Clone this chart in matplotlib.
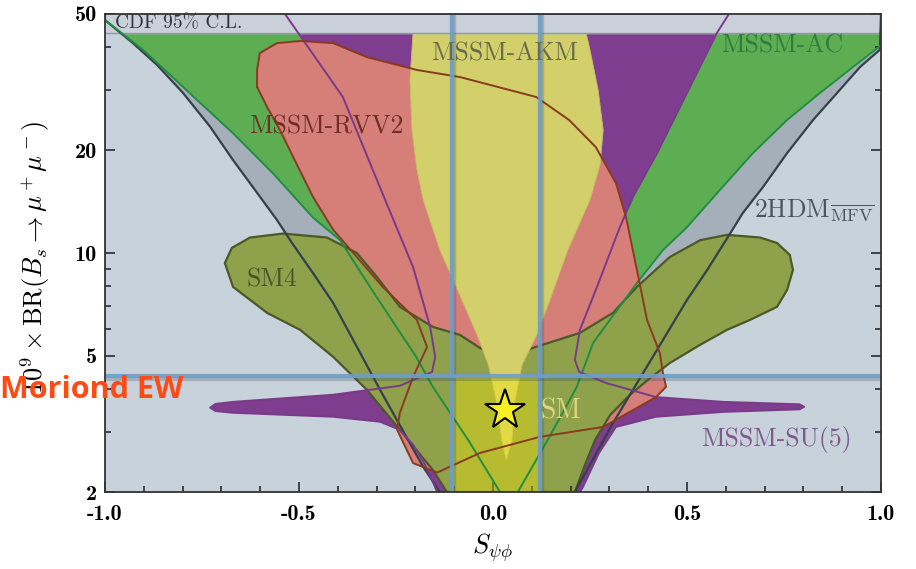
import numpy as np
import matplotlib
matplotlib.use('Agg')
import matplotlib.pyplot as plt
import matplotlib.patheffects as pe

plt.rcParams['mathtext.fontset'] = 'cm'
plt.rcParams['axes.unicode_minus'] = False

# ---- data ----
y_ticks = [2, 5, 10, 20, 50]
y_tick_labels = ['2', '5', '10', '20', '50']
y_minor = [3, 4, 6, 7, 8, 9, 30, 40]
x_ticks = [-1.0, -0.5, 0.0, 0.5, 1.0]
x_tick_labels = ['-1.0', '-0.5', '0.0', '0.5', '1.0']
x_minor = [-0.9, -0.8, -0.7, -0.6, -0.4, -0.3, -0.2, -0.1,
           0.1, 0.2, 0.3, 0.4, 0.6, 0.7, 0.8, 0.9]

cdf_limit = 44.0
exp_s_low, exp_s_high = -0.106, 0.121
exp_br = 4.37
sm_s, sm_br = 0.031, 3.48

# 2HDM_MFV (dark lines)
hdm_left_x = [-1.0, -1.0, -0.928, -0.866, -0.799, -0.729, -0.670, -0.608, -0.557, -0.518,
              -0.464, -0.412, -0.291, -0.258, -0.180, -0.137]
hdm_left_y = [50, 48.0, 41.1, 35.5, 29.4, 23.4, 18.7, 15.0, 12.5, 10.7,
              8.74, 7.15, 3.98, 3.41, 2.37, 2.0]
hdm_right_x = [1.0, 0.997, 0.946, 0.887, 0.825, 0.758, 0.696, 0.644, 0.611, 0.552,
               0.500, 0.387, 0.309, 0.247, 0.211]
hdm_right_y = [50, 39.3, 35.0, 29.4, 24.5, 19.6, 15.6, 13.1, 11.4, 8.92,
               7.29, 4.46, 3.18, 2.37, 2.0]

# MSSM-AC (green lines)
ac_left_x = [-1.0, -1.0, -0.902, -0.799, -0.670, -0.567, -0.464, -0.394, -0.312, -0.198,
             -0.155, -0.064, 0.018]
ac_left_y = [50, 48.0, 39.3, 30.6, 22.4, 17.1, 12.7, 10.9, 7.80, 4.97,
             4.06, 2.84, 2.0]
ac_right_x = [1.0, 1.0, 0.928, 0.843, 0.758, 0.670, 0.585, 0.500, 0.438, 0.371,
              0.258, 0.216, 0.141, 0.064]
ac_right_y = [50, 40.5, 35.0, 29.4, 24.5, 19.6, 15.3, 11.9, 10.2, 8.17,
              5.46, 4.06, 2.84, 2.0]

# MSSM-SU(5) (purple)
su5_left_x = [-0.536, -0.387, -0.278, -0.206, -0.162, -0.149, -0.157, -0.240, -0.412, -0.670,
              -0.715, -0.729, -0.715, -0.670, -0.412, -0.291, -0.240, -0.206, -0.175, -0.155,
              -0.144]
su5_left_y = [50, 28.6, 14.3, 9.10, 6.08, 4.97, 4.49, 4.09, 3.85, 3.67,
              3.62, 3.53, 3.45, 3.41, 3.32, 3.21, 3.04, 2.75, 2.40, 2.14,
              2.0]
su5_right_x = [0.608, 0.577, 0.500, 0.423, 0.361, 0.327, 0.265, 0.224, 0.211, 0.222,
               0.291, 0.420, 0.593, 0.790, 0.802, 0.790, 0.593, 0.420, 0.317, 0.273,
               0.232, 0.224]
su5_right_y = [50, 44.0, 29.4, 19.6, 14.6, 11.9, 7.80, 5.96, 4.87, 4.49,
               4.17, 3.79, 3.67, 3.61, 3.55, 3.49, 3.43, 3.32, 3.10, 2.60,
               2.07, 2.0]

# MSSM-RVV2 (salmon)
rvv2_x = [-0.608, -0.582, -0.549, -0.515, -0.464, -0.412, -0.284, -0.196, -0.170, -0.206,
          -0.240, -0.247, -0.206, -0.144, -0.034, 0.121, 0.284, 0.376, 0.420, 0.446,
          0.438, 0.430, 0.397, 0.371, 0.343, 0.317, 0.265, 0.196, 0.111, -0.085,
          -0.196, -0.325, -0.412, -0.497, -0.557, -0.601, -0.608]
rvv2_y = [30.6, 26.7, 22.9, 19.1, 14.6, 11.7, 7.96, 6.37, 5.31, 4.34,
          3.41, 3.04, 2.43, 2.28, 2.60, 2.90, 3.10, 3.55, 3.79, 4.06,
          4.46, 5.10, 6.37, 8.92, 12.7, 16.0, 20.4, 24.5, 28.6, 32.7,
          34.3, 37.4, 41.1, 41.7, 41.1, 38.4, 34.3]

# MSSM-AKM (yellow)
akm_x = [-0.206, -0.214, -0.209, -0.196, -0.180, -0.137, -0.080, -0.041, -0.012, 0.008,
         0.023, 0.034, 0.049, 0.057, 0.075, 0.113, 0.147, 0.193, 0.250, 0.276,
         0.284, 0.271, 0.250, 0.240]
akm_y = [44.0, 32.1, 22.9, 17.5, 14.3, 10.2, 7.29, 5.76, 4.71, 3.72,
         2.84, 2.48, 2.84, 3.72, 4.71, 5.76, 7.29, 10.2, 14.3, 18.1,
         22.9, 30.0, 39.3, 44.0]

# SM4 (olive)
sm4_x = [-0.691, -0.673, -0.626, -0.541, -0.428, -0.351, -0.299, -0.240, -0.155, -0.085,
         -0.034, 0.031, 0.103, 0.224, 0.309, 0.371, 0.456, 0.534, 0.603, 0.688,
         0.732, 0.765, 0.773, 0.758, 0.732, 0.662, 0.603, 0.534, 0.456, 0.405,
         0.353, 0.302, 0.263, 0.237, 0.211, -0.119, -0.155, -0.240, -0.325, -0.412,
         -0.497, -0.582, -0.670]
sm4_y = [9.35, 10.35, 11.1, 11.4, 11.1, 10.0, 8.51, 6.96, 6.08, 5.76,
         5.28, 4.93, 5.28, 5.84, 6.68, 7.96, 9.74, 10.9, 11.3, 11.1,
         10.7, 9.87, 8.92, 7.80, 6.96, 6.37, 5.96, 5.39, 4.77, 4.31,
         3.85, 3.36, 2.84, 2.40, 2.0, 2.0, 2.32, 3.04, 3.98, 4.97,
         5.96, 6.68, 7.96]

# ---- figure ----
fig = plt.figure(figsize=(9.16, 5.69), dpi=100)
ax = fig.add_axes([0.1146, 0.1353, 0.8472, 0.8401])
ax.set_facecolor('#c8d2db')
ax.set_xlim(-1, 1)
ax.set_yscale('log')
ax.set_ylim(2, 50)


def band(lx, ly, rx, ry):
    return np.concatenate([lx, rx[::-1]]), np.concatenate([ly, ry[::-1]])


bx, by = band(hdm_left_x, hdm_left_y, hdm_right_x, hdm_right_y)
ax.fill(bx, by, color='#a4afb9', lw=0, zorder=1.0)
bx, by = band(ac_left_x, ac_left_y, ac_right_x, ac_right_y)
ax.fill(bx, by, color='#5dad53', lw=0, zorder=1.1)
bx, by = band(su5_left_x, su5_left_y, su5_right_x, su5_right_y)
ax.fill(bx, by, color='#7e3d8f', lw=0, zorder=1.2)
ax.fill(rvv2_x, rvv2_y, color='#d67e78', lw=0, zorder=1.3)
ax.fill(sm4_x, sm4_y, facecolor='#8fa14a', edgecolor='#4d5828', lw=1.6, zorder=1.4)
ax.fill(akm_x, akm_y, facecolor='#d3cf6b', edgecolor='#c4bd62', lw=0.6, zorder=1.5)

# experimental box tint
ax.fill([exp_s_low, exp_s_high, exp_s_high, exp_s_low], [2, 2, exp_br, exp_br],
        color='#ffee00', alpha=0.35, lw=0, zorder=1.6)

# CDF band
ax.axhspan(cdf_limit, 50, color='#cad0da', zorder=2)
ax.axhline(cdf_limit, color='#8d99a6', lw=1.0, zorder=2.1)

# outlines
ax.plot(hdm_left_x, hdm_left_y, color='#34404a', lw=1.6, zorder=3)
ax.plot(hdm_right_x, hdm_right_y, color='#34404a', lw=1.6, zorder=3)
ax.plot(ac_left_x, ac_left_y, color='#1f8f3f', lw=1.4, zorder=3)
ax.plot(ac_right_x, ac_right_y, color='#1f8f3f', lw=1.4, zorder=3)
ax.plot(su5_left_x[::-1] + su5_right_x, su5_left_y[::-1] + su5_right_y,
        color='#7a3a8a', lw=1.4, zorder=3)
ax.plot(rvv2_x + rvv2_x[:1], rvv2_y + rvv2_y[:1], color='#8a3a20', lw=1.4, zorder=3)

# experimental lines with a soft shadow
shadow = [pe.SimpleLineShadow(offset=(1.5, -2.5), shadow_color='#3a4450', alpha=0.25),
          pe.Normal()]
for xv in (exp_s_low, exp_s_high):
    ax.axvline(xv, color='#6e9dc9', lw=3.2, alpha=0.9, zorder=4, path_effects=shadow)
ax.axhline(exp_br, color='#6e9dc9', lw=3.0, alpha=0.9, zorder=4, path_effects=shadow)

# SM point
ax.plot([sm_s], [sm_br], marker='*', markersize=30, color='#f7ef22',
        markeredgecolor='black', markeredgewidth=1.5, zorder=5)

# labels in plot
serif = 'cmr10'
ax.text(-0.975, 46.9, 'CDF 95% C.L.', fontsize=14, family=serif, color='#2e3640',
        ha='left', va='center', zorder=6)
ax.text(0.031, 38.2, 'MSSM-AKM', fontsize=18.5, family=serif, color='#6a6b4c',
        ha='center', va='center', zorder=6)
ax.text(0.745, 40.4, 'MSSM-AC', fontsize=18.5, family=serif, color='#2f7d3e',
        ha='center', va='center', zorder=6)
ax.text(-0.430, 23.4, 'MSSM-RVV2', fontsize=18.5, family=serif, color='#6e3026',
        ha='center', va='center', zorder=6)
ax.text(0.673, 13.4, r'$\mathrm{2HDM}_{\overline{\mathrm{MFV}}}$', fontsize=18.5,
        color='#4a5560', ha='left', va='center', zorder=6)
ax.text(-0.570, 8.34, 'SM4', fontsize=18.5, family=serif, color='#4a5628',
        ha='center', va='center', zorder=6)
ax.text(0.174, 3.45, 'SM', fontsize=20, family=serif, color='#dcd67c',
        ha='center', va='center', zorder=6)
ax.text(0.730, 2.84, 'MSSM-SU(5)', fontsize=18.5, family=serif, color='#7d5a8e',
        ha='center', va='center', zorder=6)

# ticks
ax.set_yticks(y_ticks)
ax.set_yticklabels(y_tick_labels, fontfamily='cmb10', fontsize=16)
ax.set_yticks(y_minor, minor=True)
ax.set_yticklabels([], minor=True)
ax.set_xticks(x_ticks)
ax.set_xticklabels(x_tick_labels, fontfamily='cmb10', fontsize=16)
ax.set_xticks(x_minor, minor=True)
ax.tick_params(which='both', direction='in', right=True, top=False, color='#2a2a2a', width=1.2)
ax.tick_params(which='major', length=7)
ax.tick_params(axis='y', which='major', pad=6)
ax.tick_params(axis='x', which='major', pad=9)
ax.tick_params(which='minor', length=4.5)
for s in ax.spines.values():
    s.set_color('#333333')
    s.set_linewidth(1.3)
    s.set_zorder(7)

fig.text(0.038, 0.547, r'$10^9 \times \mathrm{BR}(B_s \to \mu^+\mu^-)$', fontsize=19,
         rotation=90, ha='center', va='center')
fig.text(0.538, 0.037, r'$S_{\psi\phi}$', fontsize=19, ha='center', va='center')
fig.text(0.0, 0.315, 'Moriond EW', fontsize=22, fontweight='bold', family='Open Sans',
         color='#ff4a14', ha='left', va='center')

fig.savefig('out.png', dpi=100)
